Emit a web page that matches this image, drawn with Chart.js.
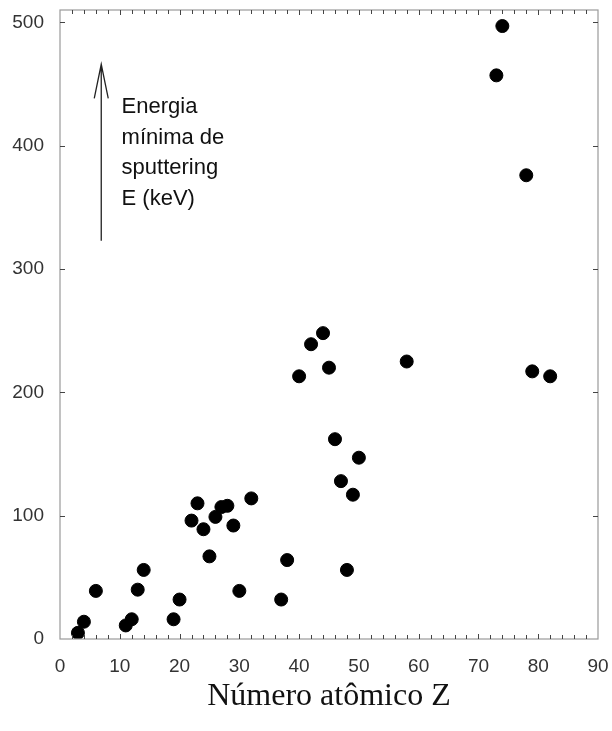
<!DOCTYPE html>
<html>
<head>
<meta charset="utf-8">
<script src="https://cdn.jsdelivr.net/npm/chart.js@4/dist/chart.umd.min.js"></script>
<style>
  body { margin: 0; background: #fff; }
  #wrap { width: 612px; height: 731px; }
</style>
</head>
<body>
<div id="wrap"><canvas id="myChart"></canvas></div>
<script>
// numero atomico Z e energia minima de sputtering (keV)
var numeroZ = [3, 4, 6, 11, 12, 13, 14, 19, 20, 22, 23, 24, 25, 26, 27, 28, 29, 30, 32, 37, 38,
    40, 42, 44, 45, 46, 47, 48, 49, 50, 58, 73, 74, 78, 79, 82]
var energia = [5, 14, 39, 11, 16, 40, 56, 16, 32, 96, 110, 89, 67, 99, 107, 108, 92, 39, 114, 32, 64,
    213, 239, 248, 220, 162, 128, 56, 117, 147, 225, 457, 497, 376, 217, 213]

var xTicks = [0, 10, 20, 30, 40, 50, 60, 70, 80, 90]
var yTicks = [0, 100, 200, 300, 400, 500]
var anotacao = ['Energia', 'mínima de', 'sputtering', 'E (keV)']

var pontos = []
for (let i = 0; i < numeroZ.length; i++) {
    pontos.push({x: numeroZ[i], y: energia[i]})
}

// moldura, marcas internas e a seta com o texto
var moldura = {
    id: 'moldura',
    afterDraw(chart) {
        let c = chart.ctx
        let a = chart.chartArea
        let xs = chart.scales.x
        let ys = chart.scales.y
        c.save()
        c.strokeStyle = '#9a9a9a'
        c.lineWidth = 1.2
        c.strokeRect(a.left, a.top, a.right - a.left, a.bottom - a.top)

        c.strokeStyle = '#444'
        c.lineWidth = 1
        for (let v = 2; v < 90; v += 2) {
            let px = Math.round(xs.getPixelForValue(v)) + 0.5
            let len = (v % 10 == 0) ? 5 : 4
            c.beginPath()
            c.moveTo(px, a.bottom)
            c.lineTo(px, a.bottom - len)
            c.moveTo(px, a.top)
            c.lineTo(px, a.top + len)
            c.stroke()
        }
        for (let v = 100; v <= 500; v += 100) {
            let py = Math.round(ys.getPixelForValue(v)) + 0.5
            c.beginPath()
            c.moveTo(a.left, py)
            c.lineTo(a.left + 5, py)
            c.moveTo(a.right, py)
            c.lineTo(a.right - 5, py)
            c.stroke()
        }

        // seta
        let sx = xs.getPixelForValue(6.9)
        let topo = ys.getPixelForValue(466)
        let base = ys.getPixelForValue(323)
        c.strokeStyle = '#222'
        c.lineWidth = 1.3
        c.beginPath()
        c.moveTo(sx, base)
        c.lineTo(sx, topo)
        c.moveTo(sx - 7, topo + 34)
        c.lineTo(sx, topo)
        c.lineTo(sx + 7, topo + 34)
        c.stroke()

        c.fillStyle = '#111'
        c.font = '22px "Liberation Sans", Arial, sans-serif'
        c.textBaseline = 'alphabetic'
        let tx = xs.getPixelForValue(10.3)
        for (let i = 0; i < anotacao.length; i++) {
            c.fillText(anotacao[i], tx, 113 + i * 30.5)
        }
        c.restore()
    }
}

var ctx = document.getElementById('myChart').getContext('2d')
var chart = new Chart(ctx, {
    type: 'scatter',
    data: {
        datasets: [{
            data: pontos,
            backgroundColor: '#000',
            borderColor: '#000',
            pointRadius: 6.5,
            pointHoverRadius: 6.5
        }]
    },
    options: {
        responsive: true,
        maintainAspectRatio: false,
        animation: false,
        layout: {padding: {top: 10, right: 14, left: 0, bottom: 0}},
        plugins: {
            legend: {display: false},
            tooltip: {enabled: false}
        },
        scales: {
            x: {
                type: 'linear',
                min: 0,
                max: 90,
                afterBuildTicks: s => { s.ticks = xTicks.map(v => ({value: v})) },
                afterFit: s => {
                    s.height = 92
                    s.paddingLeft = 0
                    s.paddingRight = 0
                },
                grid: {display: false, drawTicks: false},
                border: {display: false},
                ticks: {
                    color: '#333',
                    padding: 16,
                    maxRotation: 0,
                    font: {family: '"Liberation Sans", Arial, sans-serif', size: 19}
                },
                title: {
                    display: true,
                    text: 'Número atômico Z',
                    color: '#111',
                    padding: {top: 4, bottom: 15},
                    font: {family: '"Liberation Serif", "Times New Roman", serif', size: 32}
                }
            },
            y: {
                type: 'linear',
                min: 0,
                max: 510,
                afterBuildTicks: s => { s.ticks = yTicks.map(v => ({value: v})) },
                afterFit: s => {
                    s.width = 60
                    s.paddingTop = 0
                    s.paddingBottom = 0
                },
                grid: {display: false, drawTicks: false},
                border: {display: false},
                ticks: {
                    color: '#333',
                    padding: 16,
                    font: {family: '"Liberation Sans", Arial, sans-serif', size: 19}
                }
            }
        }
    },
    plugins: [moldura]
})
</script>
</body>
</html>
